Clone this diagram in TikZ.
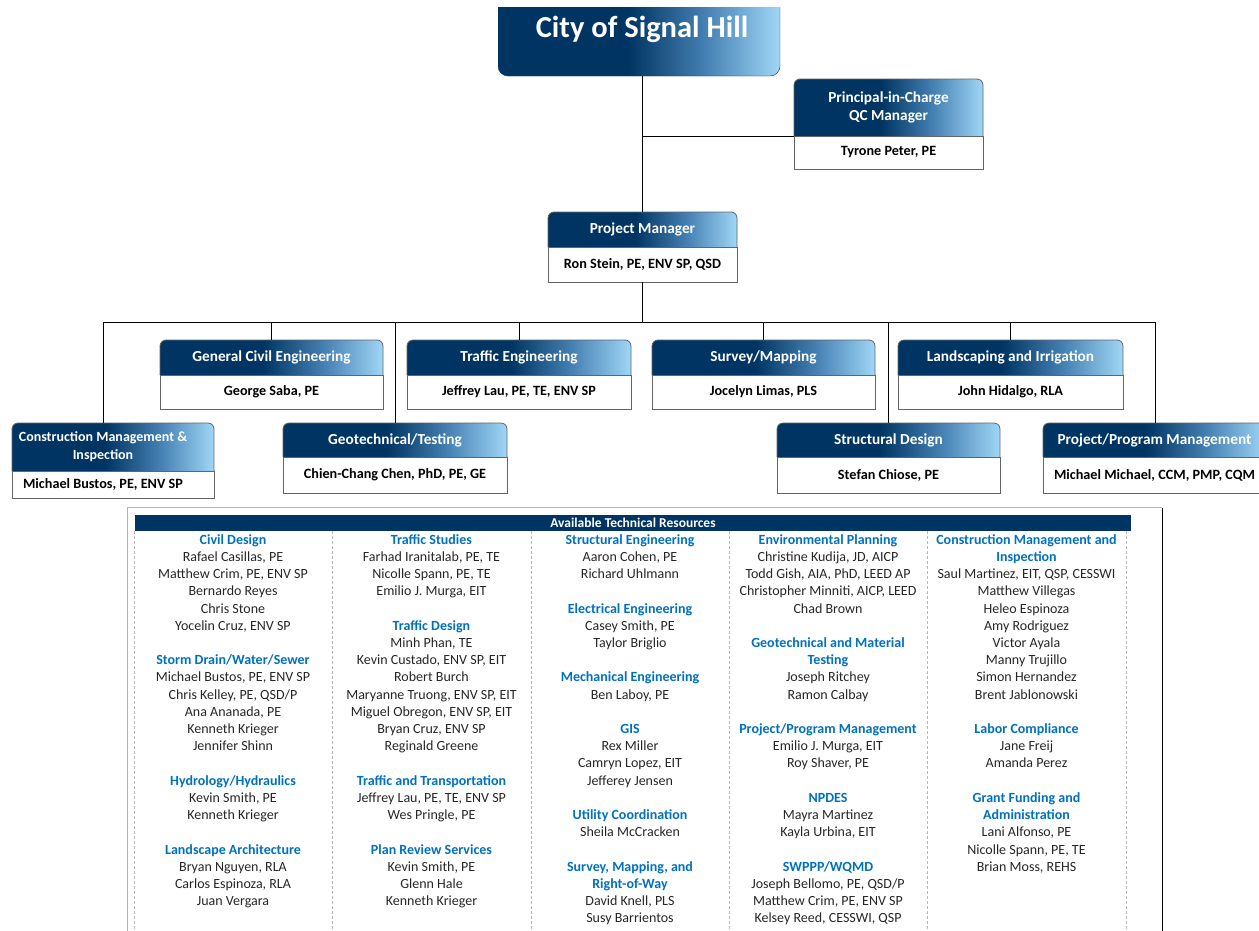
\documentclass[tikz,border=0pt]{standalone}
\usepackage{fontspec}
\setmainfont{Carlito}
\usetikzlibrary{fit,calc}
\definecolor{navy}{RGB}{0,52,98}
\definecolor{midb}{RGB}{70,130,180}
\definecolor{skyb}{RGB}{160,214,246}
\definecolor{headblue}{RGB}{0,112,192}
\definecolor{boxline}{RGB}{100,100,100}
\pgfdeclarehorizontalshading{hdrshade}{100bp}{color(0bp)=(navy); color(48bp)=(navy); color(62bp)=(midb); color(75bp)=(skyb); color(100bp)=(skyb)}
\newcommand{\orgbox}[9]{%
  \node[fit={(#2,#3) (#4,#5)}, inner sep=0pt] (#1) {};
  \coordinate (#1-hb) at (#2,#6);
  \begin{scope}
    \clip (#2,#3) rectangle (#4,#6);
    \shade[shading=hdrshade, rounded corners=6pt] (#2,#3) rectangle (#4,#6+12);
  \end{scope}
  \draw[boxln, rounded corners=6pt] (#2,#6) -- (#2,#3) -- (#4,#3) -- (#4,#6);
  \draw[boxln, fill=white] (#2,#6) rectangle (#4,#5);
  \node[hdtitle] (#1-title) at (#7,{(#3+#6)/2}) {#8};
  \node[hdname] (#1-name) at (#7,{(#6+#5)/2}) {#9};
}
\newcommand{\rh}[3]{\node[reshd] (h#1-#2) at ($(col#1)+(0,{17.2*#2})$) {#3};}
\newcommand{\rn}[3]{\node[resnm] (n#1-#2) at ($(col#1)+(0,{17.2*#2})$) {#3};}
\newcommand{\smallhd}{\fontsize{14}{18}\selectfont}
\begin{document}
\begin{tikzpicture}[x=1pt,y=-1pt,
  boxln/.style={draw=boxline, line width=0.8pt},
  conn/.style={draw=black, line width=0.9pt},
  hdtitle/.style={text=white, font=\fontsize{15.3}{18}\selectfont\bfseries, align=center, inner sep=0pt},
  hdname/.style={text=black, font=\fontsize{14.2}{16}\selectfont\bfseries, align=center, inner sep=0pt},
  reshd/.style={text=headblue, font=\fontsize{14}{16}\selectfont\bfseries, anchor=mid, inner sep=0pt},
  resnm/.style={text=black!85, font=\fontsize{14}{16}\selectfont, anchor=mid, inner sep=0pt},
  divider/.style={draw=gray!55, densely dashed, line width=0.6pt}]
\useasboundingbox (0,0) rectangle (1259,930);
\clip (0,0) rectangle (1259,930);

% title
\node[fit={(498,7) (780,76)}, inner sep=0pt] (title) {};
\begin{scope}
  \clip (498,7) rectangle (780,77);
  \shade[shading=hdrshade, draw=navy, rounded corners=10pt] (498,-20) rectangle (780,76);
\end{scope}
\node[text=white, font=\fontsize{30.5}{33}\selectfont\bfseries, inner sep=0pt] (titletext) at (642,29.5) {City of Signal Hill};

% boxes
\orgbox{pic}{794}{79}{983}{169}{136}{888.5}{Principal-in-Charge\\QC Manager}{Tyrone Peter, PE}
\orgbox{pm}{548}{212}{737}{282}{247}{642.5}{Project Manager}{Ron Stein, PE, ENV SP, QSD}
\orgbox{gce}{160}{340}{383}{409}{375}{271.5}{General Civil Engineering}{George Saba, PE}
\orgbox{te}{407}{340}{631}{409}{375}{519}{Traffic Engineering}{Jeffrey Lau, PE, TE, ENV SP}
\orgbox{sm}{652}{340}{875}{409}{375}{763.5}{Survey/Mapping}{Jocelyn Limas, PLS}
\orgbox{li}{898}{340}{1123}{409}{375}{1010.5}{Landscaping and Irrigation}{John Hidalgo, RLA}
\orgbox{cm}{12}{423}{214}{498}{471}{103}{\smallhd Construction Management \&\\\smallhd Inspection}{Michael Bustos, PE, ENV SP}
\orgbox{gt}{283}{423}{507}{493}{457}{395}{Geotechnical/Testing}{Chien-Chang Chen, PhD, PE, GE}
\orgbox{sd}{777}{423}{1000}{493}{457}{888.5}{Structural Design}{Stefan Chiose, PE}
\orgbox{ppm}{1043}{423}{1266}{493}{457}{1154.5}{Project/Program Management}{Michael Michael, CCM, PMP, CQM}

% connectors
\coordinate (busL) at (103,322);
\coordinate (busR) at (1155,322);
\draw[conn] (pm.north |- title.south) -- (pm.north);
\draw[conn] (pic-hb -| pm.north) -- (pic-hb);
\draw[conn] (pm.south) -- (pm.south |- busL);
\draw[conn] (busL) -- (busR);
\draw[conn] (busL) -- (busL |- cm.north);
\draw[conn] (busR) -- (busR |- ppm.north);
\foreach \n in {gce,te,sm,li,gt,sd} \draw[conn] (\n.north |- busL) -- (\n.north);

% resources table
\node[fit={(128,508) (1162,935)}, inner sep=0pt] (tbl) {};
\draw[gray!60, line width=0.9pt] (tbl.south west) -- (tbl.north west) -- (tbl.north east);
\draw[black, line width=0.9pt] (tbl.north east) -- (tbl.south east);
\node[fit={(135,515) (1131,531)}, inner sep=0pt, fill=navy] (tblhead) {};
\node[text=white, font=\fontsize{13.5}{15}\selectfont\bfseries, inner sep=0pt] (tblheadtext) at (tblhead.center) {Available Technical Resources};
\foreach \x in {134,332,531,729,927,1126} \draw[divider] (\x,531) -- (\x,935);

\coordinate (col1) at (233,542);
\coordinate (col2) at (431.5,542);
\coordinate (col3) at (630,542);
\coordinate (col4) at (828,542);
\coordinate (col5) at (1026.5,542);

% column 1
\rh{1}{0}{Civil Design}
\rn{1}{1}{Rafael Casillas, PE}
\rn{1}{2}{Matthew Crim, PE, ENV SP}
\rn{1}{3}{Bernardo Reyes}
\rn{1}{4}{Chris Stone}
\rn{1}{5}{Yocelin Cruz, ENV SP}
\rh{1}{7}{Storm Drain/Water/Sewer}
\rn{1}{8}{Michael Bustos, PE, ENV SP}
\rn{1}{9}{Chris Kelley, PE, QSD/P}
\rn{1}{10}{Ana Ananada, PE}
\rn{1}{11}{Kenneth Krieger}
\rn{1}{12}{Jennifer Shinn}
\rh{1}{14}{Hydrology/Hydraulics}
\rn{1}{15}{Kevin Smith, PE}
\rn{1}{16}{Kenneth Krieger}
\rh{1}{18}{Landscape Architecture}
\rn{1}{19}{Bryan Nguyen, RLA}
\rn{1}{20}{Carlos Espinoza, RLA}
\rn{1}{21}{Juan Vergara}

% column 2
\rh{2}{0}{Traffic Studies}
\rn{2}{1}{Farhad Iranitalab, PE, TE}
\rn{2}{2}{Nicolle Spann, PE, TE}
\rn{2}{3}{Emilio J. Murga, EIT}
\rh{2}{5}{Traffic Design}
\rn{2}{6}{Minh Phan, TE}
\rn{2}{7}{Kevin Custado, ENV SP, EIT}
\rn{2}{8}{Robert Burch}
\rn{2}{9}{Maryanne Truong, ENV SP, EIT}
\rn{2}{10}{Miguel Obregon, ENV SP, EIT}
\rn{2}{11}{Bryan Cruz, ENV SP}
\rn{2}{12}{Reginald Greene}
\rh{2}{14}{Traffic and Transportation}
\rn{2}{15}{Jeffrey Lau, PE, TE, ENV SP}
\rn{2}{16}{Wes Pringle, PE}
\rh{2}{18}{Plan Review Services}
\rn{2}{19}{Kevin Smith, PE}
\rn{2}{20}{Glenn Hale}
\rn{2}{21}{Kenneth Krieger}

% column 3
\rh{3}{0}{Structural Engineering}
\rn{3}{1}{Aaron Cohen, PE}
\rn{3}{2}{Richard Uhlmann}
\rh{3}{4}{Electrical Engineering}
\rn{3}{5}{Casey Smith, PE}
\rn{3}{6}{Taylor Briglio}
\rh{3}{8}{Mechanical Engineering}
\rn{3}{9}{Ben Laboy, PE}
\rh{3}{11}{GIS}
\rn{3}{12}{Rex Miller}
\rn{3}{13}{Camryn Lopez, EIT}
\rn{3}{14}{Jefferey Jensen}
\rh{3}{16}{Utility Coordination}
\rn{3}{17}{Sheila McCracken}
\rh{3}{19}{Survey, Mapping, and}
\rh{3}{20}{Right-of-Way}
\rn{3}{21}{David Knell, PLS}
\rn{3}{22}{Susy Barrientos}

% column 4
\rh{4}{0}{Environmental Planning}
\rn{4}{1}{Christine Kudija, JD, AICP}
\rn{4}{2}{Todd Gish, AIA, PhD, LEED AP}
\rn{4}{3}{Christopher Minniti, AICP, LEED}
\rn{4}{4}{Chad Brown}
\rh{4}{6}{Geotechnical and Material}
\rh{4}{7}{Testing}
\rn{4}{8}{Joseph Ritchey}
\rn{4}{9}{Ramon Calbay}
\rh{4}{11}{Project/Program Management}
\rn{4}{12}{Emilio J. Murga, EIT}
\rn{4}{13}{Roy Shaver, PE}
\rh{4}{15}{NPDES}
\rn{4}{16}{Mayra Martinez}
\rn{4}{17}{Kayla Urbina, EIT}
\rh{4}{19}{SWPPP/WQMD}
\rn{4}{20}{Joseph Bellomo, PE, QSD/P}
\rn{4}{21}{Matthew Crim, PE, ENV SP}
\rn{4}{22}{Kelsey Reed, CESSWI, QSP}

% column 5
\rh{5}{0}{Construction Management and}
\rh{5}{1}{Inspection}
\rn{5}{2}{Saul Martinez, EIT, QSP, CESSWI}
\rn{5}{3}{Matthew Villegas}
\rn{5}{4}{Heleo Espinoza}
\rn{5}{5}{Amy Rodriguez}
\rn{5}{6}{Victor Ayala}
\rn{5}{7}{Manny Trujillo}
\rn{5}{8}{Simon Hernandez}
\rn{5}{9}{Brent Jablonowski}
\rh{5}{11}{Labor Compliance}
\rn{5}{12}{Jane Freij}
\rn{5}{13}{Amanda Perez}
\rh{5}{15}{Grant Funding and}
\rh{5}{16}{Administration}
\rn{5}{17}{Lani Alfonso, PE}
\rn{5}{18}{Nicolle Spann, PE, TE}
\rn{5}{19}{Brian Moss, REHS}
\end{tikzpicture}
\end{document}
